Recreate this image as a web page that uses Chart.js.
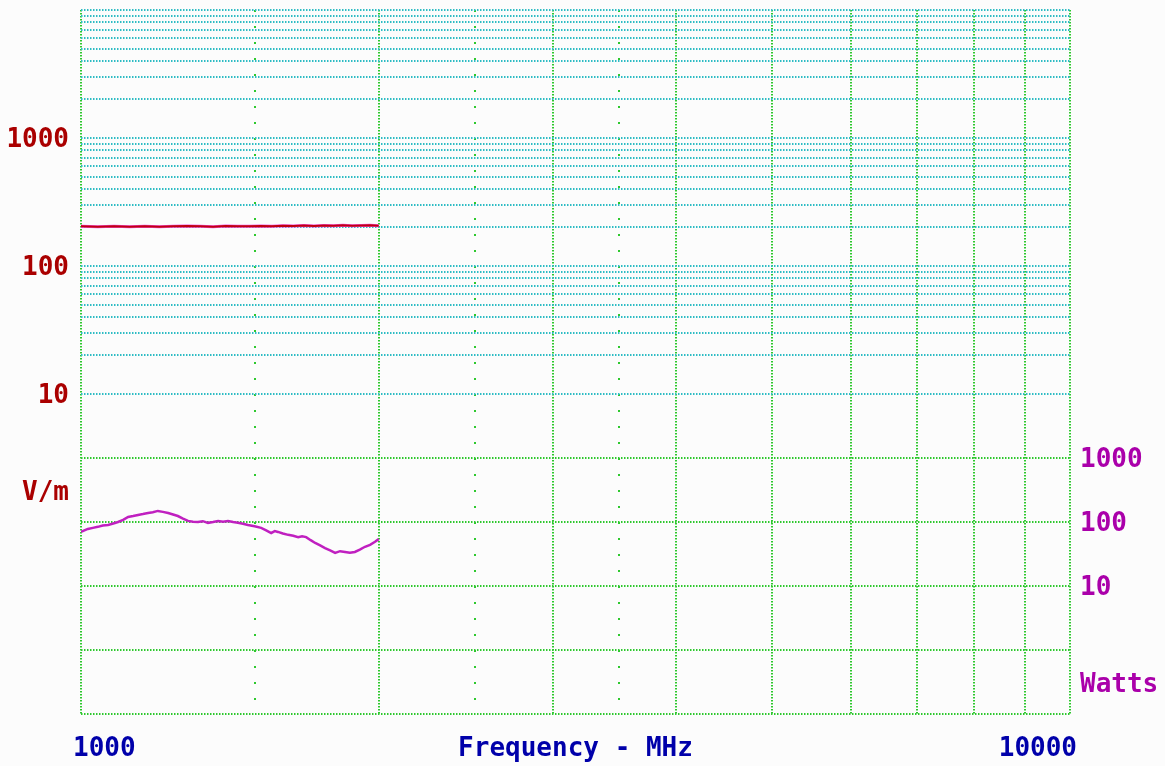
<!DOCTYPE html>
<html>
<head>
<meta charset="utf-8">
<script src="https://cdn.jsdelivr.net/npm/chart.js@4/dist/chart.umd.min.js"></script>
<style>
  html, body { margin: 0; padding: 0; background: #fcfcfc; }
  #wrap { width: 1165px; height: 766px; position: relative; }
</style>
</head>
<body>
<div id="wrap"><canvas id="canvas"></canvas></div>
<script>
// frequency axis (MHz)
const freqMin = 1000;
const freqMax = 10000;
const freqGrid = [1000, 2000, 3000, 4000, 5000, 6000, 7000, 8000, 9000, 10000];
const freqHalfGrid = [1500, 2500, 3500];

// field strength trace (V/m)
const fieldFreqs = [1000, 1040, 1080, 1120, 1160, 1200, 1240, 1280, 1320, 1360, 1400, 1440, 1480,
                    1520, 1560, 1600, 1640, 1680, 1720, 1760, 1800, 1840, 1880, 1920, 1960, 2000];
const fieldVpm = [204, 203, 204, 203, 204, 203, 204, 205, 204, 203, 205, 204, 204,
                  205, 204, 206, 205, 207, 205, 207, 206, 208, 206, 207, 208, 206];

// forward power trace (Watts)
const powerFreqs = [1000, 1008, 1016, 1028, 1040, 1052, 1065, 1078, 1090, 1103, 1116, 1129, 1142, 1155, 1169, 1182,
                    1196, 1210, 1225, 1239, 1253, 1268, 1283, 1298, 1313, 1328, 1344, 1360, 1376, 1392, 1408, 1425,
                    1441, 1458, 1475, 1498, 1521, 1539, 1557, 1570, 1582, 1600, 1620, 1639, 1658, 1673, 1689, 1707,
                    1725, 1745, 1765, 1786, 1807, 1828, 1849, 1870, 1892, 1914, 1937, 1960, 1983, 2000];
const powerWatts = [70, 74, 78, 81, 84, 88, 90, 95, 100, 108, 120, 124, 129, 133, 138, 142,
                    149, 144, 138, 131, 124, 113, 104, 101, 100, 103, 97, 100, 104, 101, 104, 100,
                    97, 94, 90, 86, 81, 74, 67, 72, 70, 66, 63, 61, 58, 60, 58, 52,
                    47, 43, 39, 36, 33, 35, 34, 33, 34, 37, 41, 44, 49, 54];

// left axis: V/m
const vpmMin = 0.0316;
const vpmMax = 10000;
const vpmLabels = [10, 100, 1000];
const vpmUnitAt = 1.75;
const vpmUnit = "V/m";

// right axis: Watts
const wattMin = 0.1;
const wattMax = 1e10;
const wattGrid = [0.1, 1, 10, 100, 1000];
const wattLabels = [10, 100, 1000];
const wattUnitAt = 0.3;
const wattUnit = "Watts";

const GREEN = "#2ec82e";
const CYAN = "#2ebcc4";
const FONT = { family: '"DejaVu Sans Mono", "Liberation Mono", monospace', size: 26, weight: "bold" };

// cyan lines for every decade 10..10000
const vpmGrid = [];
for (let d = 10; d < vpmMax; d *= 10) {
  for (let m = 1; m < 10; m++) vpmGrid.push(d * m);
}
vpmGrid.push(vpmMax);

function fixBox(w, h) {
  return scale => {
    if (w !== null) scale.width = w;
    if (h !== null) scale.height = h;
    scale.paddingTop = 0;
    scale.paddingBottom = 0;
    scale.paddingLeft = 0;
    scale.paddingRight = 0;
  };
}

// bottom row text, on the same line as the axis title
const bottomText = {
  id: "bottomText",
  afterDraw(chart) {
    const c = chart.ctx;
    const x = chart.scales.x;
    const y = 749;
    c.save();
    c.font = 'bold 26px "DejaVu Sans Mono", "Liberation Mono", monospace';
    c.fillStyle = "#0000aa";
    c.textBaseline = "middle";
    c.textAlign = "left";
    c.fillText(String(freqMin), x.getPixelForValue(freqMin) - 8, y);
    c.textAlign = "right";
    c.fillText(String(freqMax), x.getPixelForValue(freqMax) + 7, y);
    c.textAlign = "center";
    c.fillText("Frequency - MHz", (x.left + x.right) / 2, y);
    c.restore();
  }
};

const canvas = document.getElementById("canvas");
const ctx = canvas.getContext("2d");

new Chart(ctx, {
  type: "line",
  data: {
    datasets: [
      {
        data: powerFreqs.map((f, i) => ({ x: f, y: powerWatts[i] })),
        xAxisID: "x", yAxisID: "y2",
        borderColor: "#c020c0", borderWidth: 2.5, pointRadius: 0, tension: 0
      },
      {
        data: fieldFreqs.map((f, i) => ({ x: f, y: fieldVpm[i] })),
        xAxisID: "x", yAxisID: "y",
        borderColor: "#c00010", borderWidth: 2, pointRadius: 0, tension: 0, order: 0
      },
      {
        data: fieldFreqs.map((f, i) => ({ x: f, y: fieldVpm[i] })),
        xAxisID: "x", yAxisID: "y",
        borderColor: "#f050e0", borderWidth: 3, pointRadius: 0, tension: 0, order: 1
      }
    ]
  },
  options: {
    responsive: true,
    maintainAspectRatio: false,
    animation: false,
    layout: { padding: { top: 10, left: 0, right: 0, bottom: 0 } },
    plugins: { legend: { display: false }, tooltip: { enabled: false } },
    scales: {
      x: {
        type: "logarithmic", position: "bottom", min: freqMin, max: freqMax,
        afterBuildTicks: s => { s.ticks = freqGrid.map(v => ({ value: v })); },
        afterFit: fixBox(null, 52),
        ticks: { display: false, autoSkip: false },
        grid: { color: GREEN, lineWidth: 2, drawTicks: false },
        border: { display: false, dash: [1.5, 1.5] }
      },
      x2: {
        type: "logarithmic", position: "bottom", min: freqMin, max: freqMax,
        afterBuildTicks: s => { s.ticks = freqHalfGrid.map(v => ({ value: v })); },
        afterFit: fixBox(null, 0),
        ticks: { display: false, autoSkip: false },
        grid: { color: GREEN, lineWidth: 2, drawTicks: false },
        border: { display: false, dash: [2, 14] }
      },
      y: {
        type: "logarithmic", position: "left", min: vpmMin, max: vpmMax,
        afterBuildTicks: s => {
          s.ticks = [vpmMin, vpmUnitAt].concat(vpmGrid).map(v => ({ value: v }));
        },
        afterFit: fixBox(81, null),
        ticks: {
          autoSkip: false, padding: 12, labelOffset: 2, color: "#aa0000", font: FONT,
          callback: v => v === vpmUnitAt ? vpmUnit : (vpmLabels.includes(v) ? String(v) : "")
        },
        grid: {
          drawTicks: false, lineWidth: 2,
          color: c => (c.tick && c.tick.value >= 10) ? CYAN : "rgba(0,0,0,0)"
        },
        border: { display: false, dash: [1.5, 1.5] }
      },
      y2: {
        type: "logarithmic", position: "right", min: wattMin, max: wattMax,
        afterBuildTicks: s => {
          s.ticks = [wattUnitAt].concat(wattGrid, [wattMax]).map(v => ({ value: v }));
        },
        afterFit: fixBox(95, null),
        ticks: {
          autoSkip: false, padding: 10, labelOffset: 2, color: "#aa00aa", font: FONT,
          callback: v => v === wattUnitAt ? wattUnit : (wattLabels.includes(v) ? String(v) : "")
        },
        grid: {
          drawTicks: false, lineWidth: 2, drawOnChartArea: true,
          color: c => (c.tick && wattGrid.includes(c.tick.value)) ? GREEN : "rgba(0,0,0,0)"
        },
        border: { display: false, dash: [1.5, 1.5] }
      }
    }
  },
  plugins: [bottomText]
});
</script>
</body>
</html>
